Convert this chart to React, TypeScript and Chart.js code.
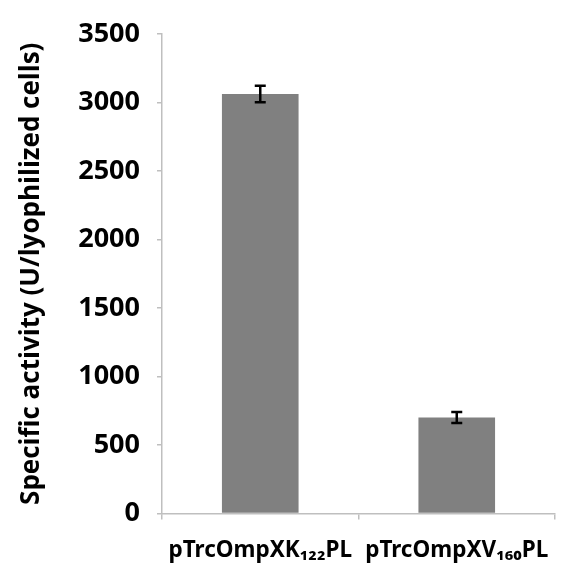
import React, { useEffect, useRef } from 'react';
import { Chart, registerables } from 'chart.js';

Chart.register(...registerables);

const categories = ['pTrcOmpXK₁₂₂PL', 'pTrcOmpXV₁₆₀PL'];
const values = [3062, 700];
const errors = [60, 40];
const yMin = 0;
const yMax = 3500;
const yStep = 500;
const yTitle = 'Specific activity (U/lyophilized cells)';

const errorBarPlugin = {
  id: 'errorBars',
  afterDatasetsDraw(chart: any) {
    const ctx = chart.ctx;
    const meta = chart.getDatasetMeta(0);
    const y = chart.scales.y;
    ctx.save();
    ctx.strokeStyle = '#000';
    ctx.lineWidth = 2.5;
    meta.data.forEach((bar: any, i: number) => {
      const x = bar.x;
      const top = y.getPixelForValue(values[i] + errors[i]);
      const bot = y.getPixelForValue(values[i] - errors[i]);
      const hw = 5.5;
      ctx.beginPath();
      ctx.moveTo(x, top);
      ctx.lineTo(x, bot);
      ctx.moveTo(x - hw, top);
      ctx.lineTo(x + hw, top);
      ctx.moveTo(x - hw, bot);
      ctx.lineTo(x + hw, bot);
      ctx.stroke();
    });
    ctx.restore();
  },
};

export default function App() {
  const ref = useRef<HTMLCanvasElement>(null);
  useEffect(() => {
    if (!ref.current) return;
    const chart = new Chart(ref.current, {
      type: 'bar',
      data: {
        labels: categories,
        datasets: [
          {
            data: values,
            backgroundColor: '#808080',
            borderWidth: 0,
            categoryPercentage: 1,
            barPercentage: 0.39,
          },
        ],
      },
      plugins: [errorBarPlugin],
      options: {
        animation: false,
        responsive: true,
        maintainAspectRatio: false,
        layout: { padding: { top: 34, right: 20, left: 0, bottom: 0 } },
        plugins: { legend: { display: false }, tooltip: { enabled: false } },
        scales: {
          x: {
            grid: {
              drawOnChartArea: false,
              drawTicks: true,
              tickLength: 6,
              color: '#bfbfbf',
              lineWidth: 1.5,
            },
            border: { display: true, color: '#bfbfbf', width: 1.5 },
            ticks: {
              color: '#000',
              padding: 18,
              maxRotation: 0,
              autoSkip: false,
              font: { family: '"Noto Sans", "Open Sans", sans-serif', size: 22.5, weight: 'bold' },
            },
            afterFit: (s: any) => {
              s.height = 50.5;
            },
          },
          y: {
            min: yMin,
            max: yMax,
            ticks: {
              stepSize: yStep,
              color: '#000',
              padding: 17,
              callback: (v: any) => String(v),
              font: { family: '"Open Sans", sans-serif', size: 27, weight: 'bold' },
            },
            grid: {
              drawOnChartArea: false,
              drawTicks: true,
              tickLength: 5,
              color: '#bfbfbf',
              lineWidth: 1.5,
            },
            border: { display: true, color: '#bfbfbf', width: 1.5 },
            title: {
              display: true,
              text: yTitle,
              color: '#000',
              padding: { top: 16, bottom: 0 },
              font: { family: '"Open Sans", sans-serif', size: 26, weight: 'bold' },
            },
            afterFit: (s: any) => {
              s.width = 162;
            },
          },
        },
      },
    } as any);
    return () => chart.destroy();
  }, []);
  return (
    <div style={{ position: 'fixed', left: 0, top: 0, width: 575, height: 564, background: '#fff' }}>
      <canvas ref={ref} />
    </div>
  );
}
